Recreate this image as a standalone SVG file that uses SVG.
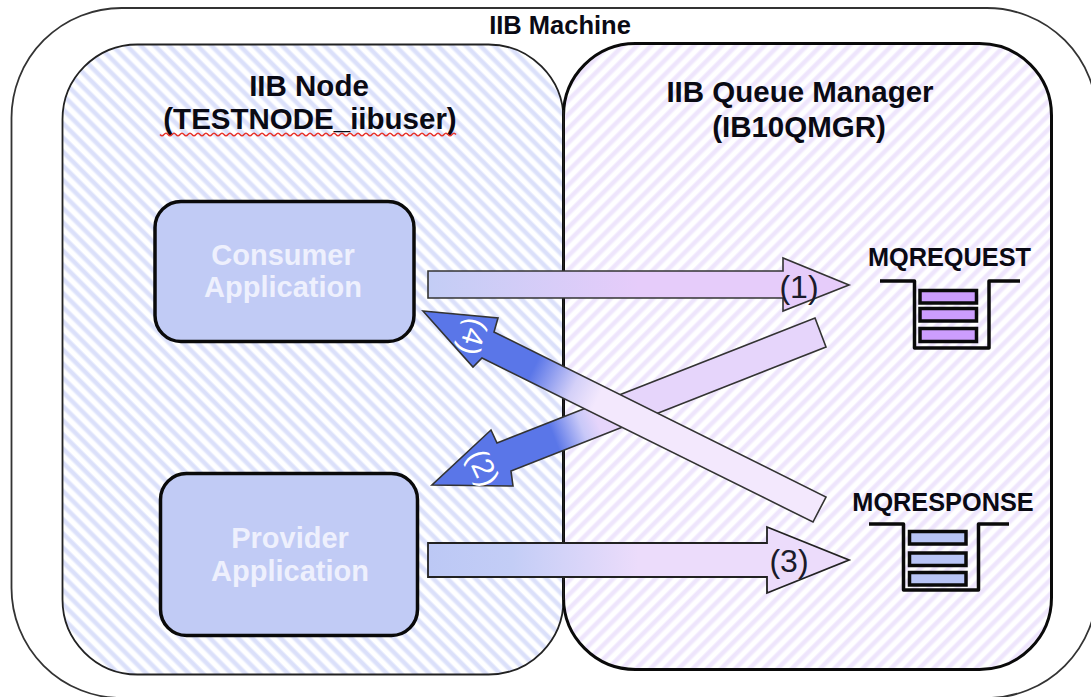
<svg xmlns="http://www.w3.org/2000/svg" width="1091" height="697" viewBox="0 0 1091 697">
<style>
text{font-family:"Liberation Sans",Arial,sans-serif;text-anchor:middle}
.b{font-weight:bold;fill:#0a0a14}
.h{font-size:29.500px}
.w{font-weight:bold;fill:#eef0fd;font-size:29px}
.q{font-size:25.300px}
.a{stroke:#333;stroke-width:1.600;stroke-linejoin:miter}
.n{font-size:32px;fill:#1a1a2a}
.m{font-size:30px;fill:#fff}
.box{stroke:#0a0a0a;stroke-width:3.500}
.bk{fill:none;stroke:#0a0a0a;stroke-width:3.500;stroke-linejoin:round}
.ib{stroke:#0a0a0a;stroke-width:3.500}
</style>
<defs>
<pattern id="hb" width="10" height="10" patternUnits="userSpaceOnUse" patternTransform="rotate(45)">
<rect width="10" height="10" fill="#fff"/><rect y="0" width="10" height="5.500" fill="#eceffd"/><rect y="1" width="10" height="3.500" fill="#dbe0fa"/>
</pattern>
<pattern id="hp" width="10" height="10" patternUnits="userSpaceOnUse" patternTransform="rotate(-45)">
<rect width="10" height="10" fill="#fff"/><rect y="0" width="10" height="5.500" fill="#f6f1fe"/><rect y="1" width="10" height="3.500" fill="#eee5fc"/>
</pattern>
<linearGradient id="g1" gradientUnits="userSpaceOnUse" x1="428" y1="0" x2="849" y2="0"><stop offset="0" stop-color="#c3cdf5"/><stop offset=".5" stop-color="#e6ccfa"/><stop offset="1" stop-color="#e6ccfa"/></linearGradient>
<linearGradient id="g3" gradientUnits="userSpaceOnUse" x1="428" y1="0" x2="849" y2="0"><stop offset="0" stop-color="#bcc8f5"/><stop offset=".2" stop-color="#c3cdf6"/><stop offset=".5" stop-color="#ecdcfb"/><stop offset="1" stop-color="#ecdcfb"/></linearGradient>
<linearGradient id="g2" gradientUnits="userSpaceOnUse" x1="432" y1="485" x2="826" y2="332"><stop offset="0" stop-color="#5a76e8"/><stop offset=".31" stop-color="#5a76e8"/><stop offset=".38" stop-color="#c8c8f8"/><stop offset=".42" stop-color="#e6d5fb"/><stop offset="1" stop-color="#e6d5fb"/></linearGradient>
<linearGradient id="g4" gradientUnits="userSpaceOnUse" x1="423" y1="311" x2="820" y2="510"><stop offset="0" stop-color="#5a76e8"/><stop offset=".28" stop-color="#5a76e8"/><stop offset=".38" stop-color="#d4d0f8"/><stop offset=".44" stop-color="#f3e8fd"/><stop offset="1" stop-color="#f3e8fd"/></linearGradient>
</defs>
<g id="machine">
<rect x="11.500" y="8" width="1085.500" height="690" rx="110" ry="110" fill="#fff" stroke="#333" stroke-width="1.800"/>
<text class="b" x="560" y="34" font-size="25.500">IIB Machine</text>
</g>
<g id="node">
<rect x="62.500" y="44.500" width="501" height="630" rx="75" ry="75" fill="url(#hb)" stroke="#222" stroke-width="1.800"/>
<text class="b h" x="309" y="96">IIB Node</text>
<text class="b h" x="310" y="129">(TESTNODE_iibuser)</text>
<path d="M160 134.500q2 2.500 4 0t4 0t4 0t4 0t4 0t4 0t4 0t4 0t4 0t4 0t4 0t4 0t4 0t4 0t4 0t4 0t4 0t4 0t4 0t4 0t4 0t4 0t4 0t4 0t4 0t4 0t4 0t4 0t4 0t4 0t4 0t4 0t4 0t4 0t4 0t4 0t4 0t4 0t4 0t4 0t4 0t4 0t4 0t4 0t4 0t4 0t4 0t4 0t4 0t4 0t4 0t4 0t4 0t4 0t4 0t4 0t4 0t4 0t4 0t4 0t4 0t4 0t4 0t4 0t4 0t4 0t4 0t4 0t4 0t4 0t4 0t4 0t4 0t4 0" fill="none" stroke="#e8332a" stroke-width="1.400"/>
</g>
<g id="queue-manager">
<rect x="563.500" y="43.500" width="488" height="626" rx="72" ry="72" fill="url(#hp)" stroke="#0a0a0a" stroke-width="3"/>
<line x1="563.500" y1="110" x2="563.500" y2="600" stroke="#222" stroke-width="1.500"/>
<text class="b h" x="800" y="102">IIB Queue Manager</text>
<text class="b h" x="799" y="137">(IB10QMGR)</text>
</g>
<g id="consumer">
<rect class="box" x="155" y="201.500" width="259" height="140" rx="26" fill="#c1cbf5"/>
<text class="w" x="283" y="265">Consumer</text>
<text class="w" x="283" y="297">Application</text>
</g>
<g id="provider">
<rect class="box" x="160.500" y="473.500" width="257" height="162" rx="26" fill="#c1cbf5"/>
<text class="w" x="290" y="548">Provider</text>
<text class="w" x="290" y="581">Application</text>
</g>
<g id="mqrequest">
<text class="b q" x="949.500" y="266">MQREQUEST</text>
<path class="bk" d="M880 281H914.500V348H989V281H1020"/>
<rect class="ib" x="920" y="290.500" width="56.500" height="12.500" fill="#cc9dfd"/>
<rect class="ib" x="920" y="308.500" width="56.500" height="12.500" fill="#cc9dfd"/>
<rect class="ib" x="920" y="328.500" width="56.500" height="13" fill="#cc9dfd"/>
</g>
<g id="mqresponse">
<text class="b q" x="943" y="511">MQRESPONSE</text>
<path class="bk" d="M869 524H903.500V590H978.500V524H1009"/>
<rect class="ib" x="909.500" y="531.500" width="56.500" height="12.500" fill="#b8c4f5"/>
<rect class="ib" x="909.500" y="553" width="56.500" height="12.500" fill="#b8c4f5"/>
<rect class="ib" x="909.500" y="572.500" width="56.500" height="12.500" fill="#b8c4f5"/>
</g>
<g id="connectors">
<path class="a" fill="url(#g1)" d="M428 271H783V258L849 285L783 311V298H428Z"/>
<path class="a" fill="url(#g2)" d="M815 318L826 347L511 471L513 486L432 485L491 430L497 443Z"/>
<path class="a" fill="url(#g4)" d="M423 311L498 318L494 332L826 497L813 522L482 358L473 367Z"/>
<path fill="url(#g3)" stroke="#222" stroke-width="1.800" d="M428 543H767V527L849 560L767 593V577H428Z"/>
<text class="n" x="799" y="298">(1)</text>
<text class="m" transform="translate(483 468) rotate(65)" x="0" y="10">(2)</text>
<text class="n" x="789" y="572">(3)</text>
<text class="m" transform="translate(473 337) rotate(107)" x="0" y="10">(4)</text>
</g>
</svg>
